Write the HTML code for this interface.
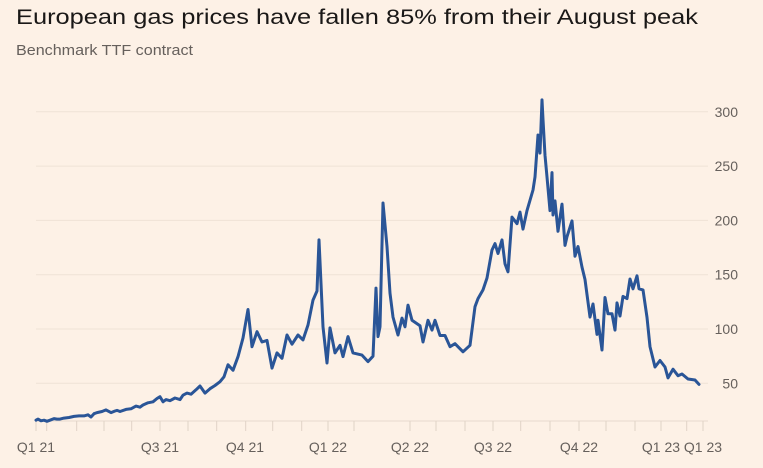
<!DOCTYPE html>
<html><head><meta charset="utf-8"><style>
html,body{margin:0;padding:0;background:#FDF1E6;}
svg{display:block;font-family:"Liberation Sans",sans-serif;}
</style></head><body>
<svg id="chart" width="763" height="468" viewBox="0 0 763 468">
<rect x="0" y="0" width="763" height="468" fill="#FDF1E6"/>
<text x="16" y="24" font-size="21" fill="#1a1817" textLength="682" lengthAdjust="spacingAndGlyphs">European gas prices have fallen 85% from their August peak</text>
<text x="16" y="55" font-size="15" fill="#66605c" textLength="177" lengthAdjust="spacingAndGlyphs">Benchmark TTF contract</text>
<g id="grid"></g>
<g id="yaxis"></g>
<g id="xaxis"></g>
<g id="series"></g>
</svg>
<script>
const yTicks = [50,100,150,200,250,300];
const xTickLabels = ["Q1 21","Q3 21","Q4 21","Q1 22","Q2 22","Q3 22","Q4 22","Q1 23","Q1 23"];
const xTickDays = [0,124,209,292,374,457,543,625,667];
const minorTickDays = [0,10.7,40.7,68,95.7,124,152,180.7,209.7,236.7,265.7,292,318,374,400,429,457,484.7,514,543,570,599,625,650.7,667];
const days = [0,2,5,8,11,14,18,21,24,28,33,38,43,48,52,55,58,61,66,70,75,79,81,84,90,95,100,104,107,112,117,121,124,127,130,134,139,144,147,151,155,160,164,169,174,179,184,188,192,197,202,207,212,216,221,226,231,236,241,246,251,256,262,267,272,277,281,283,287,291,294,299,304,307,312,317,326,332,337,340,342,344,347,351,354,357,362,366,369,372,376,384,387,392,396,399,404,409,414,419,427,434,439,442,447,451,456,459,462,466,469,472,476,481,484,487,491,497,499,502,504,506,507,509,511,514,516,517,519,522,526,529,531,536,539,542,546,549,554,557,561,562,566,569,572,576,579,581,584,587,591,594,597,601,603,607,611,614,619,624,629,632,637,642,646,652,659,663,667];
const prices = [16,17,15.5,16,15,16,17.5,17,17,18,18.5,19.5,20,20,21,19,22,23,24,25.5,23,24.5,25,24,26,26.5,29,28,30,32,33,36,37.7,33,35,34,36.5,35,39,41,40,44,47.5,41,45,48,51.5,56,67,62,74.5,91.7,118,83.7,97.5,88,89.5,64,78,73,94.5,86,94.5,90,103.7,126.6,135,182,102,68.7,101,78,85,74.6,93,78,76,70,75,137.7,93,102,216,176,133,111,94.5,110,102,122,108,103,88,108,99,108,94,94,83.7,86.5,79,85,120.5,128,136,147,172.7,178.6,169.5,182,160,152.7,203,197,207.6,192,209,228,240,278.6,262,311,293,260,240,209,244,205,218,190,215,177,185,199.5,167,176,157,145.6,111,123,95,108,80.7,129,114,114,99,124,112,130,128,146,137,149,137,136,110.7,83.7,65,71,65,55,63,57,58.6,54,53,49];
const NS="http://www.w3.org/2000/svg";
const X0=36, X1=703, D0=0, D1=667;
function xs(d){return X0+(d-D0)*(X1-X0)/(D1-D0);}
function ys(v){return 383.3-(v-50)*1.086;}
function mk(tag,attrs,parent){const e=document.createElementNS(NS,tag);for(const k in attrs)e.setAttribute(k,attrs[k]);parent.appendChild(e);return e;}
const grid=document.getElementById('grid'),ya=document.getElementById('yaxis'),xa=document.getElementById('xaxis'),se=document.getElementById('series');
yTicks.forEach(v=>{
  const l=mk('line',{x1:36,x2:708,y1:ys(v),y2:ys(v),stroke:'#efe2d6','stroke-width':1},grid);
  
  
  const t=mk('text',{x:738,y:ys(v)+5,'text-anchor':'end','font-size':14,fill:'#66605c'},ya);
  t.textContent=v;
  
  
});
const base=mk('line',{x1:36,x2:708,y1:421,y2:421,stroke:'#e6d9cd','stroke-width':1},xa);


minorTickDays.forEach(d=>{
  const l=mk('line',{x1:xs(d),x2:xs(d),y1:421,y2:431,stroke:'#e0d3c7','stroke-width':1},xa);
  
  
});
xTickLabels.forEach((s,i)=>{
  const t=mk('text',{x:xs(xTickDays[i]),y:452,'text-anchor':'middle','font-size':14,fill:'#66605c'},xa);
  t.textContent=s;
  
  
});
const pts=days.map((d,i)=>xs(d).toFixed(1)+','+ys(prices[i]).toFixed(1)).join(' ');
const pl=mk('polyline',{points:pts,fill:'none',stroke:'#2A5597','stroke-width':3,'stroke-linejoin':'round','stroke-linecap':'round'},se);


</script>
</body></html>
